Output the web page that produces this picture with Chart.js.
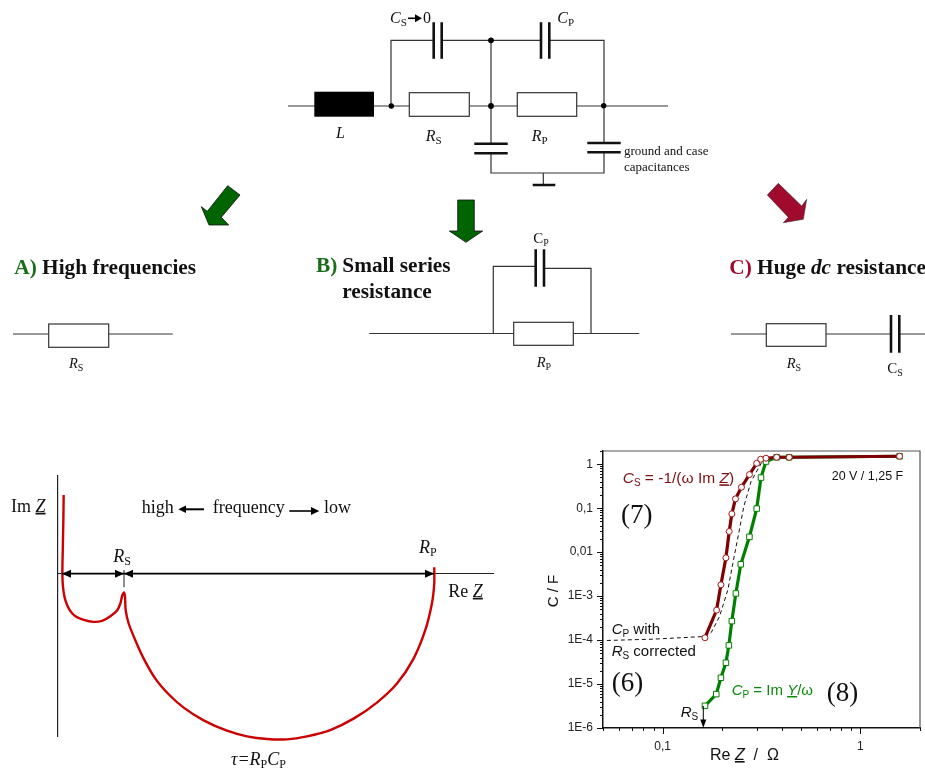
<!DOCTYPE html>
<html>
<head>
<meta charset="utf-8">
<script src="https://cdn.jsdelivr.net/npm/chart.js@4"></script>
<style>
    html, body { margin: 0; padding: 0; background: #ffffff; }
    body { width: 925px; height: 769px; position: relative; overflow: hidden; }
    .plot { position: absolute; }
    #nyquistBox { left: 0; top: 470px; width: 500px; height: 299px; }
    #capBox { left: 530px; top: 440px; width: 395px; height: 329px; }
    svg { position: absolute; left: 0; top: 0; pointer-events: none; }
    text { font-family: "Liberation Serif", serif; fill: #111; }
    .sans { font-family: "Liberation Sans", sans-serif; }
    .head { font-size: 21.3px; font-weight: bold; }
    .it { font-style: italic; }
    .u { text-decoration: underline; }
    .wire { stroke: #333; stroke-width: 1.2; fill: none; }
    .plate { stroke: #111; stroke-width: 2.6; fill: none; }
    .res { stroke: #333; stroke-width: 1.2; fill: #fff; }
</style>
</head>
<body>
<div class="plot" id="nyquistBox"><canvas id="nyquist" width="500" height="299"></canvas></div>
<div class="plot" id="capBox"><canvas id="cap" width="395" height="329"></canvas></div>

<svg width="925" height="769" viewBox="0 0 925 769">
    <!-- full circuit -->
    <path class="wire" d="M288 106H668M391 106V40.3H434M442 40.3H541M549 40.3H604V106M491 40.3V143.7M491 153.3V173H604V152M604 106V143M543.3 173V185"/>
    <rect x="314.3" y="91.7" width="59.7" height="25" fill="#000"/>
    <rect class="res" x="409.3" y="92.7" width="60" height="23.6"/>
    <rect class="res" x="517.3" y="92.7" width="59.4" height="23.6"/>
    <path class="plate" d="M433.7 22.3V58.7M441.7 22.3V58.7M541 22.3V58.7M549.3 22.3V58.7M474.3 143.7H507.7M474.3 153.3H507.7M587.3 143H620.7M587.3 152.3H620.7M532.7 185H555.3"/>
    <circle cx="391.3" cy="106" r="2.7" fill="#000"/>
    <circle cx="491" cy="106" r="2.9" fill="#000"/>
    <circle cx="491" cy="40.3" r="2.9" fill="#000"/>
    <circle cx="603.7" cy="105.7" r="2.7" fill="#000"/>
    <text x="390" y="23" font-size="16"><tspan class="it">C</tspan><tspan font-size="11" dy="3">S</tspan></text>
    <path d="M408 18.3H417" stroke="#000" stroke-width="1.6"/>
    <polygon points="422,18.3 415,14.3 415,22.3" fill="#000"/>
    <text x="423" y="23" font-size="16">0</text>
    <text x="557.3" y="23" font-size="16"><tspan class="it">C</tspan><tspan font-size="11" dy="3">P</tspan></text>
    <text x="336" y="138" font-size="16" class="it">L</text>
    <text x="425.7" y="141" font-size="16"><tspan class="it">R</tspan><tspan font-size="11" dy="3">S</tspan></text>
    <text x="531.7" y="141" font-size="16"><tspan class="it">R</tspan><tspan font-size="11" dy="3">P</tspan></text>
    <text x="624" y="155" font-size="13">ground and case</text>
    <text x="624" y="171" font-size="13">capacitances</text>

    <!-- arrows to the limit cases -->
    <polygon points="227.7,185.7 240,195 221.3,217.3 228.7,225 209,225 201.3,206.7 207.3,211.3" fill="#006400" stroke="#111" stroke-width="0.8"/>
    <polygon points="457.7,200 474.3,200 474.3,231 482.7,231 466,242.3 449.3,231 457.7,231" fill="#006400" stroke="#111" stroke-width="0.8"/>
    <polygon points="778.3,183.3 801.7,206 806.7,199.3 803.3,219.3 783.3,222.7 788.3,217.3 767.3,195" fill="#a00a2c" stroke="#333" stroke-width="0.6"/>

    <!-- case A -->
    <text x="14.3" y="274" class="head"><tspan fill="#1a6e1a">A)</tspan> High frequencies</text>
    <path class="wire" d="M13 334H172.7"/>
    <rect class="res" x="48.7" y="324" width="60" height="23.3"/>
    <text x="69" y="368.3" font-size="14.5"><tspan class="it">R</tspan><tspan font-size="10" dy="3">S</tspan></text>

    <!-- case B -->
    <text x="316" y="272" class="head"><tspan fill="#1a6e1a">B)</tspan></text>
    <text x="342.3" y="272" class="head">Small series</text>
    <text x="342.3" y="297.7" class="head">resistance</text>
    <path class="wire" d="M369.3 333.5H639.3M493.3 333.5V266.3H535.7M544 268.3H591V333.5"/>
    <path class="plate" d="M535.7 249.3V286.7M544 249.3V286.7"/>
    <rect class="res" x="513.7" y="322.3" width="59.6" height="23"/>
    <text x="533.3" y="243.3" font-size="15">C<tspan font-size="10" dy="3">P</tspan></text>
    <text x="536.7" y="367.3" font-size="14.5"><tspan class="it">R</tspan><tspan font-size="10" dy="3">P</tspan></text>

    <!-- case C -->
    <text x="729.3" y="274" class="head"><tspan fill="#a00a2c">C)</tspan> Huge <tspan class="it">dc</tspan> resistance</text>
    <path class="wire" d="M731 334H891M899.3 334H925"/>
    <rect class="res" x="766.3" y="323.7" width="59.7" height="22.6"/>
    <path class="plate" d="M891 315V352.7M899.3 315V352.7"/>
    <text x="786.7" y="368.3" font-size="14.5"><tspan class="it">R</tspan><tspan font-size="10" dy="3">S</tspan></text>
    <text x="887.3" y="372.7" font-size="15">C<tspan font-size="10" dy="3">S</tspan></text>

    <!-- Nyquist notes -->
    <text x="11" y="511.7" font-size="18">Im <tspan class="it u">Z</tspan></text>
    <text x="141.7" y="512.7" font-size="18">high</text>
    <path d="M184 509.3H204" stroke="#000" stroke-width="2"/>
    <polygon points="178.3,509.3 186,505.5 186,513" fill="#000"/>
    <text x="212.7" y="512.7" font-size="18">frequency</text>
    <path d="M289.3 511H313" stroke="#000" stroke-width="1.6"/>
    <polygon points="319.3,511 311,507 311,515" fill="#000"/>
    <text x="324" y="512.7" font-size="18">low</text>
    <text x="113.3" y="561.7" font-size="18"><tspan class="it">R</tspan><tspan font-size="12" dy="3">S</tspan></text>
    <text x="419" y="553.3" font-size="18"><tspan class="it">R</tspan><tspan font-size="12" dy="3">P</tspan></text>
    <text x="448.3" y="596.7" font-size="18">Re <tspan class="it u">Z</tspan></text>
    <text x="231" y="765" font-size="18"><tspan class="it">τ=R</tspan><tspan font-size="12" dy="3">P</tspan><tspan class="it" dy="-3">C</tspan><tspan font-size="12" dy="3">P</tspan></text>
    <path d="M62 573.7H434" stroke="#000" stroke-width="1.8"/>
    <path d="M124 570V587.3" stroke="#222" stroke-width="1"/>
    <polygon points="62,573.7 71,569.7 71,577.7" fill="#000"/>
    <polygon points="124,573.7 115,569.7 115,577.7" fill="#000"/>
    <polygon points="124,573.7 133,569.7 133,577.7" fill="#000"/>
    <polygon points="434,573.7 425,569.7 425,577.7" fill="#000"/>

    <!-- capacitance plot notes -->
    <text x="622.7" y="483.3" font-size="15.5" class="sans" style="fill:#7f1010"><tspan class="it">C</tspan><tspan font-size="10" dy="3">S</tspan><tspan dy="-3"> = -1/(ω Im </tspan><tspan class="it u">Z</tspan>)</text>
    <text x="621" y="523.3" font-size="27">(7)</text>
    <text x="831.7" y="480" font-size="12.5" class="sans">20 V / 1,25 F</text>
    <text x="611.7" y="634" font-size="15" class="sans"><tspan class="it">C</tspan><tspan font-size="10" dy="3">P</tspan><tspan dy="-3"> with</tspan></text>
    <text x="611.7" y="656" font-size="15" class="sans"><tspan class="it">R</tspan><tspan font-size="10" dy="3">S</tspan><tspan dy="-3"> corrected</tspan></text>
    <text x="611.7" y="690.7" font-size="27">(6)</text>
    <text x="731.7" y="695" font-size="15" class="sans" style="fill:#0a8a0a"><tspan class="it">C</tspan><tspan font-size="10" dy="3">P</tspan><tspan dy="-3"> = Im </tspan><tspan class="it u">Y</tspan>/ω</text>
    <text x="826.7" y="700.7" font-size="27">(8)</text>
    <text x="680.7" y="716.7" font-size="15" class="sans"><tspan class="it">R</tspan><tspan font-size="10" dy="3">S</tspan></text>
    <path d="M703.3 706V722" stroke="#000" stroke-width="1"/>
    <polygon points="703.3,728 700.3,719.5 706.3,719.5" fill="#000"/>
    <text x="710" y="760" font-size="16" class="sans" xml:space="preserve">Re <tspan class="it u">Z</tspan>  /  Ω</text>
    <text transform="translate(558 591) rotate(-90)" text-anchor="middle" font-size="15" class="sans">C / F</text>
</svg>

<script>
// Nyquist sketch, in units of RS
const nyquistRe = [0.016, 0.011, 0, -0.005, 0.005, 0.043, 0.114, 0.205, 0.341, 0.503, 0.638, 0.773, 0.886, 0.935, 0.968, 0.995, 1.011, 1.022, 1.07, 1.178, 1.314, 1.503, 1.719, 1.962, 2.286, 2.665, 2.989, 3.314, 3.638, 3.962, 4.341, 4.719, 5.097, 5.422, 5.692, 5.881, 5.989, 6.027, 6.027];
const nyquistIm = [1.276, 0.87, 0.33, 0, -0.211, -0.427, -0.589, -0.686, -0.746, -0.778, -0.762, -0.686, -0.589, -0.481, -0.346, -0.303, -0.373, -0.589, -0.805, -1.076, -1.373, -1.697, -1.951, -2.168, -2.373, -2.541, -2.632, -2.676, -2.681, -2.632, -2.53, -2.346, -2.086, -1.778, -1.373, -0.914, -0.481, -0.157, 0.108];

// capacitance against Re Z
const csRe = [0.1638, 0.1875, 0.1972, 0.209, 0.2172, 0.2239, 0.2336, 0.2504, 0.2748, 0.299, 0.3133, 0.3331, 0.377, 0.4365, 1.577];
const csC = [1.13e-4, 4.8e-4, 1.81e-3, 7.43e-3, 0.0295, 0.0743, 0.163, 0.3, 0.582, 1.05, 1.3, 1.37, 1.44, 1.44, 1.52];
const cpRe = [0.1638, 0.1868, 0.1972, 0.209, 0.2163, 0.2239, 0.2346, 0.2485, 0.2748, 0.299, 0.3144, 0.3331, 0.377, 0.4365, 1.577];
const cpC = [3.2e-6, 5.9e-6, 1.39e-5, 3.05e-5, 7.57e-5, 2.7e-4, 1.15e-3, 5.3e-3, 0.0223, 0.098, 0.497, 1.15, 1.44, 1.44, 1.52];
const correctedRe = [0.0523, 0.0898, 0.1638, 0.1763, 0.194, 0.2138, 0.2266, 0.2418, 0.2573, 0.28, 0.3206];
const correctedC = [9.8e-5, 1.05e-4, 1.21e-4, 1.49e-4, 3.45e-4, 1.39e-3, 5.6e-3, 0.0248, 0.109, 0.404, 1.21];

// tick labels
const xMajor = { 0.1: '0,1', 1: '1' };
const xTicks = [0.05, 0.06, 0.07, 0.08, 0.09, 0.1, 0.2, 0.3, 0.4, 0.5, 0.6, 0.7, 0.8, 0.9, 1, 2];
const yMajor = { 1: '1', 0.1: '0,1', 0.01: '0,01', 0.001: '1E-3', 0.0001: '1E-4', 0.00001: '1E-5', 0.000001: '1E-6' };
const yDecades = [0.000001, 0.00001, 0.0001, 0.001, 0.01, 0.1, 1];

const pairs = (xs, ys) => xs.map((x, i) => ({ x: x, y: ys[i] }));

const yTicks = [];
yDecades.forEach(d => {
    yTicks.push(d);
    if (d < 1) [2, 3, 4, 5, 6, 7, 8, 9].forEach(m => yTicks.push(d * m));
});
yTicks.push(2);

new Chart(document.getElementById('nyquist'), {
    type: 'line',
    data: {
        datasets: [{
            data: pairs(nyquistRe, nyquistIm),
            borderColor: '#cc0000',
            borderWidth: 2.4,
            pointRadius: 0,
            tension: 0.25,
            clip: false,
        }]
    },
    options: {
        responsive: false,
        animation: false,
        parsing: false,
        layout: { padding: { left: 58, right: 7, top: 6, bottom: 33 } },
        plugins: { legend: { display: false }, tooltip: { enabled: false } },
        scales: {
            x: {
                type: 'linear', min: -0.076, max: 6.98,
                position: { y: 0 },
                ticks: { display: false },
                grid: { drawOnChartArea: false, drawTicks: false },
                border: { color: '#222', width: 1 },
                afterFit: s => { s.height = 0; },
            },
            y: {
                type: 'linear', min: -2.627, max: 1.584,
                position: { x: -0.076 },
                ticks: { display: false },
                grid: { drawOnChartArea: false, drawTicks: false },
                border: { color: '#222', width: 1.2 },
                afterFit: s => { s.width = 0; },
            },
        },
    },
});

// log ticks with two lengths, plus the grey top and right frame
const frameAndTicks = {
    id: 'frameAndTicks',
    beforeDatasetsDraw(chart) {
        const { ctx, chartArea: a, scales } = chart;
        ctx.save();
        ctx.strokeStyle = '#555';
        ctx.lineWidth = 1.2;
        ctx.beginPath();
        ctx.moveTo(a.left, a.top);
        ctx.lineTo(a.right, a.top);
        ctx.lineTo(a.right, a.bottom);
        ctx.stroke();
        ctx.strokeStyle = '#111';
        ctx.lineWidth = 1;
        ctx.beginPath();
        xTicks.forEach(v => {
            const px = Math.round(scales.x.getPixelForValue(v)) + 0.5;
            ctx.moveTo(px, a.bottom);
            ctx.lineTo(px, a.bottom + (xMajor[v] ? 6 : 3));
        });
        yTicks.forEach(v => {
            const py = Math.round(scales.y.getPixelForValue(v)) + 0.5;
            const major = yDecades.includes(v);
            ctx.moveTo(a.left, py);
            ctx.lineTo(a.left - (major ? 6 : 3), py);
        });
        ctx.stroke();
        ctx.restore();
    },
};

const tickFont = { family: '"Liberation Sans", sans-serif', size: 12 };

new Chart(document.getElementById('cap'), {
    type: 'line',
    plugins: [frameAndTicks],
    data: {
        datasets: [
            {
                label: 'CS',
                data: pairs(csRe, csC),
                borderColor: '#7f0000',
                borderWidth: 3.2,
                pointStyle: 'circle',
                pointRadius: 3,
                pointBorderWidth: 1,
                pointBorderColor: '#a01818',
                pointBackgroundColor: '#ffffff',
                tension: 0,
            },
            {
                label: 'CP',
                data: pairs(cpRe, cpC),
                borderColor: '#008000',
                borderWidth: 3.2,
                pointStyle: 'rect',
                pointRadius: 3.9,
                pointBorderWidth: 1,
                pointBorderColor: '#008000',
                pointBackgroundColor: '#ffffff',
                tension: 0,
            },
            {
                label: 'CP corrected',
                data: pairs(correctedRe, correctedC),
                borderColor: '#111111',
                borderWidth: 1,
                borderDash: [4, 3],
                pointRadius: 0,
                tension: 0,
            },
        ]
    },
    options: {
        responsive: false,
        animation: false,
        parsing: false,
        layout: { padding: { left: 0, right: 3, top: 11, bottom: 0 } },
        plugins: { legend: { display: false }, tooltip: { enabled: false } },
        scales: {
            x: {
                type: 'logarithmic', min: 0.05, max: 2,
                afterBuildTicks: s => { s.ticks = xTicks.map(v => ({ value: v })); },
                afterFit: s => { s.height = 41; s.paddingLeft = 0; s.paddingRight = 0; },
                ticks: {
                    autoSkip: false, maxRotation: 0, padding: 11, color: '#222', font: tickFont,
                    callback: v => xMajor[v] || '',
                },
                grid: { drawOnChartArea: false, drawTicks: false },
                border: { color: '#111', width: 1.5 },
            },
            y: {
                type: 'logarithmic', min: 0.000001, max: 2,
                afterBuildTicks: s => { s.ticks = yDecades.map(v => ({ value: v })); },
                afterFit: s => { s.width = 73; s.paddingTop = 0; s.paddingBottom = 0; },
                ticks: {
                    autoSkip: false, padding: 10, color: '#222', font: tickFont,
                    callback: v => yMajor[v] || '',
                },
                grid: { drawOnChartArea: false, drawTicks: false },
                border: { color: '#111', width: 1.5 },
            },
        },
    },
});
</script>
</body>
</html>
